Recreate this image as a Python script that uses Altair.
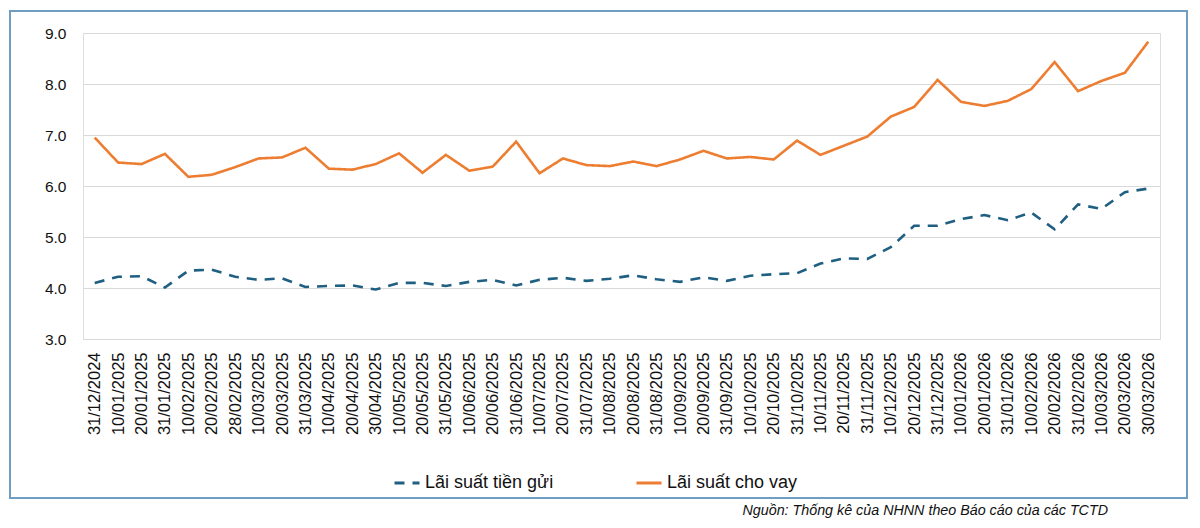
import altair as alt
import pandas as pd

dates = ["31/12/2024", "10/01/2025", "20/01/2025", "31/01/2025", "10/02/2025", "20/02/2025",
         "28/02/2025", "10/03/2025", "20/03/2025", "31/03/2025", "10/04/2025", "20/04/2025",
         "30/04/2025", "10/05/2025", "20/05/2025", "31/05/2025", "10/06/2025", "20/06/2025",
         "31/06/2025", "10/07/2025", "20/07/2025", "31/07/2025", "10/08/2025", "20/08/2025",
         "31/08/2025", "10/09/2025", "20/09/2025", "31/09/2025", "10/10/2025", "20/10/2025",
         "31/10/2025", "10/11/2025", "20/11/2025", "31/11/2025", "10/12/2025", "20/12/2025",
         "31/12/2025", "10/01/2026", "20/01/2026", "31/01/2026", "10/02/2026", "20/02/2026",
         "31/02/2026", "10/03/2026", "20/03/2026", "30/03/2026"]

deposit = [4.10, 4.22, 4.23, 4.01, 4.34, 4.36, 4.22, 4.16, 4.19, 4.02, 4.04, 4.05,
           3.97, 4.10, 4.10, 4.04, 4.12, 4.16, 4.05, 4.16, 4.20, 4.14, 4.18, 4.25,
           4.17, 4.12, 4.21, 4.14, 4.24, 4.27, 4.29, 4.48, 4.58, 4.57, 4.80, 5.22,
           5.22, 5.35, 5.43, 5.33, 5.48, 5.15, 5.64, 5.55, 5.88, 5.95]

lending = [6.95, 6.46, 6.43, 6.63, 6.18, 6.22, 6.37, 6.54, 6.56, 6.75, 6.34, 6.32,
           6.43, 6.64, 6.26, 6.61, 6.30, 6.38, 6.87, 6.25, 6.54, 6.41, 6.39, 6.48,
           6.39, 6.52, 6.69, 6.54, 6.57, 6.52, 6.89, 6.61, 6.79, 6.97, 7.36, 7.55,
           8.08, 7.65, 7.57, 7.67, 7.90, 8.43, 7.86, 8.06, 8.22, 8.83]

series_names = ["Lãi suất tiền gửi", "Lãi suất cho vay"]
series_colors = ["#1f5f82", "#ED7D31"]
source_text = "Nguồn: Thống kê của NHNN theo Báo cáo của các TCTD"

rows = []
for d, v in zip(dates, deposit):
    rows.append({"date": d, "value": v, "series": series_names[0]})
for d, v in zip(dates, lending):
    rows.append({"date": d, "value": v, "series": series_names[1]})
df = pd.DataFrame(rows)

W, H = 1077, 306
PAD_L, PAD_T, PAD_R, PAD_B = 75, 25, 30, 179

lines = alt.Chart(df).mark_line(strokeWidth=2.6).encode(
    x=alt.X("date:N", sort=dates,
            axis=alt.Axis(title=None, labelAngle=-90, labelFontSize=16.5, labelColor="#111111",
                          labelFont="Liberation Sans", labelPadding=13, ticks=False,
                          domain=False, grid=False)),
    y=alt.Y("value:Q", scale=alt.Scale(domain=[3, 9], nice=False, zero=False),
            axis=alt.Axis(title=None, values=[3, 4, 5, 6, 7, 8, 9], format=".1f",
                          labelFontSize=15.5, labelColor="#111111", labelFont="Liberation Sans",
                          labelPadding=17, ticks=False, domain=False, gridColor="#d9d9d9",
                          gridWidth=1)),
    color=alt.Color("series:N", scale=alt.Scale(domain=series_names, range=series_colors),
                    legend=alt.Legend(title=None, orient="none", legendX=310, legendY=436,
                                      direction="horizontal", symbolType="stroke",
                                      symbolSize=625, symbolStrokeWidth=3,
                                      labelFontSize=18, labelColor="#111111",
                                      labelFont="Liberation Sans Narrow, Liberation Sans",
                                      labelOffset=4, columnPadding=76, labelLimit=300)),
    strokeDash=alt.StrokeDash("series:N",
                              scale=alt.Scale(domain=series_names, range=[[10, 8], [1, 0]]),
                              legend=None),
    detail="series:N",
)

border = alt.Chart(pd.DataFrame({"a": [0]})).mark_rect(
    fill=None, stroke="#6f9ec2", strokeWidth=2
).encode(
    x=alt.value(-73), x2=alt.value(1104), y=alt.value(-22), y2=alt.value(465)
)

source = alt.Chart(pd.DataFrame({"t": [source_text]})).mark_text(
    align="right", baseline="middle", fontStyle="italic", fontSize=14.3,
    font="Liberation Sans Narrow, Liberation Sans", color="#111111"
).encode(x=alt.value(1025), y=alt.value(478), text="t:N")

chart = alt.layer(lines, border, source).properties(
    width=W, height=H,
    padding={"left": PAD_L, "top": PAD_T, "right": PAD_R, "bottom": PAD_B},
    autosize=alt.AutoSizeParams(type="none"),
).configure_view(stroke=None).configure(background="white")

chart.save("out.html", embed_options={"renderer": "svg", "actions": False})
